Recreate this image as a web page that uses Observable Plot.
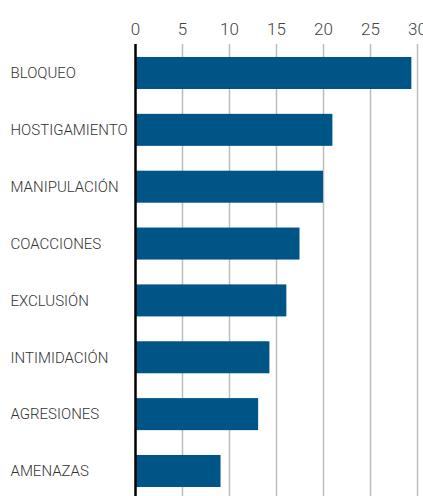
<!DOCTYPE html>
<html>
<head>
<meta charset="utf-8">
<script src="https://cdn.jsdelivr.net/npm/d3@7"></script>
<script src="https://cdn.jsdelivr.net/npm/@observablehq/plot@0.6"></script>
<style>
  html, body { margin: 0; padding: 0; background: #fff; overflow: hidden; }
  #chart svg { display: block; }
</style>
</head>
<body>
<div id="chart"></div>
<script>
const categories = ["BLOQUEO", "HOSTIGAMIENTO", "MANIPULACIÓN", "COACCIONES", "EXCLUSIÓN", "INTIMIDACIÓN", "AGRESIONES", "AMENAZAS"];
const values = [29.4, 21.0, 20.0, 17.5, 16.1, 14.3, 13.1, 9.1];
const xTicks = [0, 5, 10, 15, 20, 25, 30];

const data = categories.map((c, i) => ({category: c, value: values[i]}));
const font = "Roboto, 'Liberation Sans', sans-serif";

const chart = Plot.plot({
  width: 423,
  height: 496,
  marginLeft: 135,
  marginRight: 6,
  marginTop: 44,
  marginBottom: 0,
  style: {fontFamily: font, background: "#fff"},
  x: {domain: [0, 30], axis: null},
  y: {domain: categories, paddingInner: 0.437, paddingOuter: 0.1935, align: 0.59, round: false, axis: null},
  marks: [
    Plot.ruleX(xTicks.filter(d => d > 0), {stroke: "#bdbdbd", strokeWidth: 1.5}),
    Plot.barX(data, {y: "category", x: "value", fill: "#005587"}),
    Plot.ruleX([0], {stroke: "#000", strokeWidth: 2.5}),
    Plot.axisX(xTicks, {anchor: "top", label: null, tickSize: 0, tickPadding: 10, fontSize: 17, fontWeight: 300, fill: "#444", fontFamily: font}),
    Plot.text(data, {y: "category", text: "category", frameAnchor: "left", dx: -125, textAnchor: "start", fontSize: 15, fontWeight: 300, fill: "#333", fontFamily: font, letterSpacing: "-0.3px"})
  ]
});
document.getElementById("chart").appendChild(chart);
</script>
</body>
</html>
